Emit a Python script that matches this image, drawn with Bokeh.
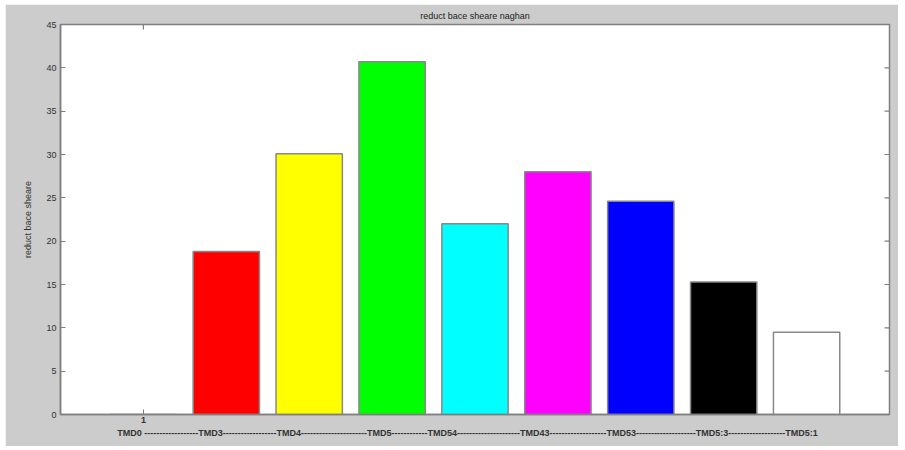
from bokeh.plotting import figure
from bokeh.models import ColumnDataSource, FixedTicker, Range1d
from bokeh.embed import file_html
from bokeh.resources import INLINE

# Reduced base shear for each damper configuration
categories = ["TMD0", "TMD3", "TMD4", "TMD5", "TMD54", "TMD43", "TMD53", "TMD5:3", "TMD5:1"]
values = [0.0, 18.8, 30.1, 40.7, 22.0, 28.0, 24.6, 15.3, 9.5]
bar_colors = ["#ffffff", "#ff0000", "#ffff00", "#00ff00", "#00ffff",
              "#ff00ff", "#0000ff", "#000000", "#ffffff"]
y_ticks = [0, 5, 10, 15, 20, 25, 30, 35, 40, 45]
group_tick = [0]
x_min, x_max = -1, 9
y_min, y_max = 0, 45

x_label = ("TMD0 ------------------TMD3------------------TMD4----------------------"
           "TMD5------------TMD54---------------------TMD43-------------------"
           "TMD53--------------------TMD5:3-------------------TMD5:1"
           "\u00a0\u00a0\u00a0\u00a0\u00a0\u00a0")

positions = list(range(len(categories)))
source = ColumnDataSource(dict(x=positions, top=values, color=bar_colors, name=categories))

BG = "#cccccc"
EDGE = "#7f7f7f"
FONT = "Liberation Sans"

p = figure(width=893, height=442, output_backend="svg", toolbar_location=None,
           x_range=Range1d(x_min, x_max), y_range=Range1d(y_min, y_max),
           title="reduct bace sheare naghan",
           min_border_left=55, min_border_right=9, min_border_top=20, min_border_bottom=32)
p.styles = {"margin-left": "5px", "margin-top": "4px"}

p.background_fill_color = "#ffffff"
p.border_fill_color = BG
p.outline_line_color = EDGE
p.outline_line_width = 1.5
p.grid.visible = False

p.title.align = "center"
p.title.text_font = FONT
p.title.text_font_size = "9px"
p.title.text_font_style = "normal"
p.title.text_color = "#222222"
p.title.offset = 0
p.title.standoff = 7

p.vbar(x="x", top="top", width=0.8, source=source, fill_color="color",
       line_color="#888888", line_width=1.5)

# mirrored tick marks on the right and top edges (half of each dash is clipped by the frame)
p.scatter(x=[x_max] * len(y_ticks), y=y_ticks, marker="dash", size=10,
          line_color=EDGE, line_width=1.2)
p.scatter(x=group_tick, y=[y_max], marker="dash", angle=1.5708, size=10,
          line_color=EDGE, line_width=1.2)

# bottom axis: single group tick "1"
xa = p.xaxis[0]
xa.ticker = FixedTicker(ticks=group_tick)
xa.major_label_overrides = {0: "1"}
xa.major_tick_in = 5
xa.major_tick_out = 0
xa.minor_tick_line_color = None
xa.axis_line_color = EDGE
xa.axis_line_width = 1.5
xa.major_tick_line_color = EDGE
xa.major_label_standoff = 2
xa.major_label_text_font = FONT
xa.major_label_text_font_size = "9px"
xa.major_label_text_font_style = "bold"
xa.major_label_text_color = "#333333"
xa.axis_label = x_label
xa.axis_label_standoff = 2
xa.axis_label_text_font = FONT
xa.axis_label_text_font_size = "9px"
xa.axis_label_text_font_style = "bold"
xa.axis_label_text_color = "#333333"

ya = p.yaxis[0]
ya.ticker = FixedTicker(ticks=y_ticks)
ya.major_tick_in = 5
ya.major_tick_out = 0
ya.minor_tick_line_color = None
ya.axis_line_color = EDGE
ya.axis_line_width = 1.5
ya.major_tick_line_color = EDGE
ya.major_label_standoff = 4
ya.major_label_text_font = FONT
ya.major_label_text_font_size = "9px"
ya.major_label_text_color = "#333333"
ya.axis_label = "reduct bace sheare"
ya.axis_label_standoff = 10
ya.axis_label_text_font = FONT
ya.axis_label_text_font_size = "9px"
ya.axis_label_text_font_style = "normal"
ya.axis_label_text_color = "#333333"

open("out.html", "w").write(file_html(p, INLINE))
